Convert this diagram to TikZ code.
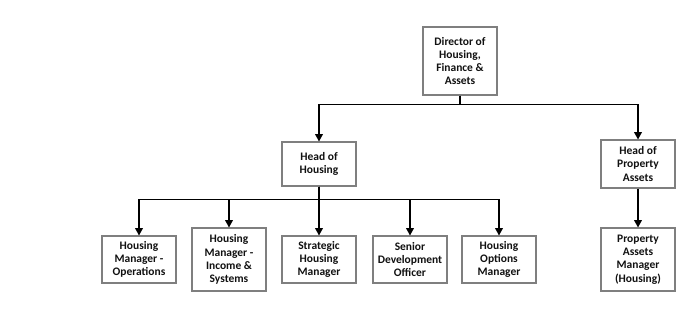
\documentclass[tikz,border=0pt]{standalone}
\usepackage{fontspec}
\setmainfont{Carlito}
\usetikzlibrary{arrows.meta}
\definecolor{frame}{HTML}{7F7F7F}
\definecolor{ink}{HTML}{111111}
\tikzset{
  font=\bfseries\fontsize{9.8}{11.3}\selectfont,
  post/.style={draw=frame, line width=0.9pt, fill=white, align=center, inner sep=0pt, minimum width=2.22cm, text=ink},
  short/.style={post, minimum height=1.41cm},
  tall/.style={post, minimum height=1.89cm},
  arrow/.style={-{Triangle[length=2.2mm, width=2.3mm]}, draw=black, line width=1.1pt},
}

\begin{document}
\begin{tikzpicture}[x=0.03cm, y=-0.03cm]
\useasboundingbox (0,0) rectangle (700,327);
% top level
\node[post, minimum height=2.04cm] (dir) at (460,61) {Director of\\Housing,\\Finance \&\\Assets};
% heads
\node[post, minimum height=1.32cm] (hoh) at (319,164) {Head of\\Housing};
\node[post, minimum height=1.44cm] (hpa) at (638,164) {Head of\\Property\\Assets};
\draw[arrow] (dir.south) -- ++(0,9) -| (hoh.north);
\draw[arrow] (dir.south) -- ++(0,9) -| (hpa.north);
% housing team
\node[short] (hmo) at (139,259.5) {Housing\\Manager -\\Operations};
\node[tall] (hmi) at (229,259.5) {Housing\\Manager -\\Income \&\\Systems};
\node[short] (shm) at (319,259.5) {Strategic\\Housing\\Manager};
\node[short] (sdo) at (410,259.5) {Senior\\Development\\Officer};
\node[short] (hom) at (499,259.5) {Housing\\Options\\Manager};
\draw[arrow] (hoh.south) -- ++(0,13) -| (hmo.north);
\draw[arrow] (hoh.south) -- ++(0,13) -| (hmi.north);
\draw[arrow] (hoh.south) -- (shm.north);
\draw[arrow] (hoh.south) -- ++(0,13) -| (sdo.north);
\draw[arrow] (hoh.south) -- ++(0,13) -| (hom.north);
% property assets
\node[tall] (pam) at (638,259.5) {Property\\Assets\\Manager\\(Housing)};
\draw[arrow] (hpa.south) -- (pam.north);
\end{tikzpicture}
\end{document}
